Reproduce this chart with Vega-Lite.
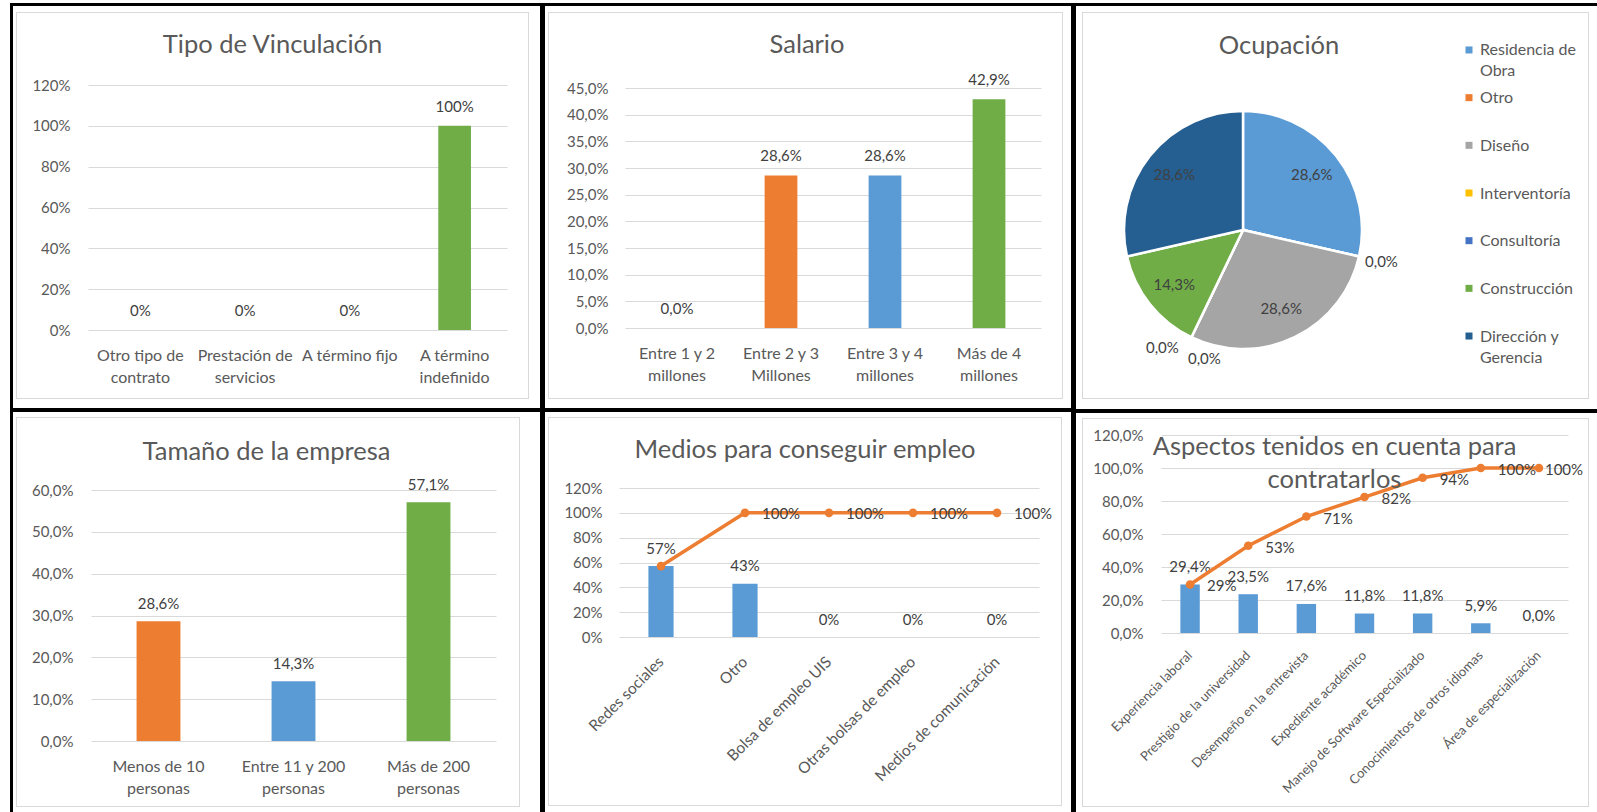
{
  "$schema": "https://vega.github.io/schema/vega-lite/v6.json",
  "padding": {"left": 10, "top": 3, "right": 0, "bottom": 0},
  "background": "#ffffff",
  "spacing": 0,
  "config": {
    "font": "Lato",
    "view": {"stroke": null},
    "locale": {"number": {"decimal": ",", "thousands": ".", "grouping": [3], "currency": ["", ""]}},
    "axis": {"labelFont": "Lato", "labelFontSize": 15, "labelColor": "#595959", "ticks": false, "tickSize": 0, "domain": false, "gridColor": "#D9D9D9", "gridWidth": 1, "labelOverlap": false, "labelLimit": 400},
    "title": {"font": "Lato", "fontSize": 25.5, "fontWeight": "normal", "color": "#595959", "anchor": "middle", "frame": "group"},
    "text": {"font": "Lato", "fontSize": 15, "color": "#404040"}
  },
  "resolve": {"scale": {"color": "independent"}},
  "hconcat": [
    {"width": 3, "height": 809, "view": {"fill": "#000000", "stroke": null}, "data": {"values": [{}]}, "mark": {"type": "point", "size": 0, "opacity": 0, "strokeWidth": 0}, "encoding": {}},
    {
      "spacing": 0,
      "resolve": {"scale": {"color": "independent"}},
      "vconcat": [
        {"width": 527, "height": 3, "view": {"fill": "#000000", "stroke": null}, "data": {"values": [{}]}, "mark": {"type": "point", "size": 0, "opacity": 0, "strokeWidth": 0}, "encoding": {}},
        {"width": 1, "height": 6, "data": {"values": [{}]}, "mark": {"type": "point", "size": 0, "opacity": 0, "strokeWidth": 0}, "encoding": {}},
        {"spacing": 0, "hconcat": [
          {"width": 3, "height": 1, "data": {"values": [{}]}, "mark": {"type": "point", "size": 0, "opacity": 0, "strokeWidth": 0}, "encoding": {}},
          {"width": 1, "height": 387, "view": {"fill": "#D9D9D9", "stroke": null}, "data": {"values": [{}]}, "mark": {"type": "point", "size": 0, "opacity": 0, "strokeWidth": 0}, "encoding": {}},
          {"spacing": 0, "vconcat": [
            {"width": 511, "height": 1, "view": {"fill": "#D9D9D9", "stroke": null}, "data": {"values": [{}]}, "mark": {"type": "point", "size": 0, "opacity": 0, "strokeWidth": 0}, "encoding": {}},
            {"width": 1, "height": 20, "data": {"values": [{}]}, "mark": {"type": "point", "size": 0, "opacity": 0, "strokeWidth": 0}, "encoding": {}},
            {"spacing": 0, "hconcat": [
              {"width": 1, "height": 1, "data": {"values": [{}]}, "mark": {"type": "point", "size": 0, "opacity": 0, "strokeWidth": 0}, "encoding": {}},
              {
                "width": 419, "height": 245,
                "title": {"text": "Tipo de Vinculación", "offset": 19.5, "dx": -25},
                "data": {"values": [
                  {"cat": "Otro tipo de contrato", "v": 0},
                  {"cat": "Prestación de servicios", "v": 0},
                  {"cat": "A término fijo", "v": 0},
                  {"cat": "A término indefinido", "v": 1}
                ]},
                "encoding": {
                  "x": {"field": "cat", "type": "nominal", "sort": null, "title": null,
                        "scale": {"paddingInner": 0.688, "paddingOuter": 0.344},
                        "axis": {"labelAngle": 0, "labelPadding": 17, "labelFontSize": 16, "labelLineHeight": 22, "minExtent": 68, "maxExtent": 68,
                                 "labelExpr": "datum.label == 'A término fijo' ? datum.label : [slice(datum.label, 0, lastindexof(datum.label, ' ')), slice(datum.label, lastindexof(datum.label, ' ') + 1)]"}},
                  "y": {"field": "v", "type": "quantitative", "title": null,
                        "scale": {"domain": [0, 1.2], "nice": false},
                        "axis": {"values": [0, 0.2, 0.4, 0.6, 0.8, 1, 1.2], "format": ".0%", "labelPadding": 18, "minExtent": 70, "maxExtent": 70, "grid": true}}
                },
                "layer": [
                  {"mark": {"type": "bar"}, "encoding": {"color": {"field": "cat", "type": "nominal", "legend": null,
                    "scale": {"domain": ["Otro tipo de contrato", "Prestación de servicios", "A término fijo", "A término indefinido"], "range": ["#5B9BD5", "#ED7D31", "#A5A5A5", "#70AD47"]}}}},
                  {"mark": {"type": "text", "baseline": "middle", "dy": -19}, "encoding": {"text": {"field": "v", "type": "quantitative", "format": ".0%"}}}
                ]
              }
            ]},
            {"width": 511, "height": 1, "view": {"fill": "#D9D9D9", "stroke": null}, "data": {"values": [{}]}, "mark": {"type": "point", "size": 0, "opacity": 0, "strokeWidth": 0}, "encoding": {}}
          ]},
          {"width": 1, "height": 387, "view": {"fill": "#D9D9D9", "stroke": null}, "data": {"values": [{}]}, "mark": {"type": "point", "size": 0, "opacity": 0, "strokeWidth": 0}, "encoding": {}}
        ]},
        {"width": 1, "height": 9, "data": {"values": [{}]}, "mark": {"type": "point", "size": 0, "opacity": 0, "strokeWidth": 0}, "encoding": {}},
        {"width": 527, "height": 4, "view": {"fill": "#000000", "stroke": null}, "data": {"values": [{}]}, "mark": {"type": "point", "size": 0, "opacity": 0, "strokeWidth": 0}, "encoding": {}},
        {"width": 1, "height": 5, "data": {"values": [{}]}, "mark": {"type": "point", "size": 0, "opacity": 0, "strokeWidth": 0}, "encoding": {}},
        {"spacing": 0, "hconcat": [
          {"width": 3, "height": 1, "data": {"values": [{}]}, "mark": {"type": "point", "size": 0, "opacity": 0, "strokeWidth": 0}, "encoding": {}},
          {"width": 1, "height": 390, "view": {"fill": "#D9D9D9", "stroke": null}, "data": {"values": [{}]}, "mark": {"type": "point", "size": 0, "opacity": 0, "strokeWidth": 0}, "encoding": {}},
          {"spacing": 0, "vconcat": [
            {"width": 502, "height": 1, "view": {"fill": "#D9D9D9", "stroke": null}, "data": {"values": [{}]}, "mark": {"type": "point", "size": 0, "opacity": 0, "strokeWidth": 0}, "encoding": {}},
            {"width": 1, "height": 22, "data": {"values": [{}]}, "mark": {"type": "point", "size": 0, "opacity": 0, "strokeWidth": 0}, "encoding": {}},
            {"spacing": 0, "hconcat": [
              {"width": 1, "height": 1, "data": {"values": [{}]}, "mark": {"type": "point", "size": 0, "opacity": 0, "strokeWidth": 0}, "encoding": {}},
              {
                "width": 405, "height": 251,
                "title": {"text": "Tamaño de la empresa", "offset": 12, "dx": -27},
                "data": {"values": [
                  {"cat": "Menos de 10 personas", "v": 0.286},
                  {"cat": "Entre 11 y 200 personas", "v": 0.143},
                  {"cat": "Más de 200 personas", "v": 0.571}
                ]},
                "encoding": {
                  "x": {"field": "cat", "type": "nominal", "sort": null, "title": null,
                        "scale": {"paddingInner": 0.675, "paddingOuter": 0.3375},
                        "axis": {"labelAngle": 0, "labelPadding": 17, "labelFontSize": 16, "labelLineHeight": 22, "minExtent": 65, "maxExtent": 65,
                                 "labelExpr": "[slice(datum.label, 0, lastindexof(datum.label, ' ')), slice(datum.label, lastindexof(datum.label, ' ') + 1)]"}},
                  "y": {"field": "v", "type": "quantitative", "title": null,
                        "scale": {"domain": [0, 0.6], "nice": false},
                        "axis": {"values": [0, 0.1, 0.2, 0.3, 0.4, 0.5, 0.6], "format": ".1%", "labelPadding": 18, "minExtent": 73, "maxExtent": 73, "grid": true}}
                },
                "layer": [
                  {"mark": {"type": "bar"}, "encoding": {"color": {"field": "cat", "type": "nominal", "legend": null,
                    "scale": {"domain": ["Menos de 10 personas", "Entre 11 y 200 personas", "Más de 200 personas"], "range": ["#ED7D31", "#5B9BD5", "#70AD47"]}}}},
                  {"mark": {"type": "text", "baseline": "middle", "dy": -17.5}, "encoding": {"text": {"field": "v", "type": "quantitative", "format": ".1%"}}}
                ]
              }
            ]},
            {"width": 502, "height": 1, "view": {"fill": "#D9D9D9", "stroke": null}, "data": {"values": [{}]}, "mark": {"type": "point", "size": 0, "opacity": 0, "strokeWidth": 0}, "encoding": {}}
          ]},
          {"width": 1, "height": 390, "view": {"fill": "#D9D9D9", "stroke": null}, "data": {"values": [{}]}, "mark": {"type": "point", "size": 0, "opacity": 0, "strokeWidth": 0}, "encoding": {}}
        ]}
      ]
    },
    {"width": 5, "height": 809, "view": {"fill": "#000000", "stroke": null}, "data": {"values": [{}]}, "mark": {"type": "point", "size": 0, "opacity": 0, "strokeWidth": 0}, "encoding": {}},
    {
      "spacing": 0,
      "resolve": {"scale": {"color": "independent"}},
      "vconcat": [
        {"width": 526, "height": 3, "view": {"fill": "#000000", "stroke": null}, "data": {"values": [{}]}, "mark": {"type": "point", "size": 0, "opacity": 0, "strokeWidth": 0}, "encoding": {}},
        {"width": 1, "height": 6, "data": {"values": [{}]}, "mark": {"type": "point", "size": 0, "opacity": 0, "strokeWidth": 0}, "encoding": {}},
        {"spacing": 0, "hconcat": [
          {"width": 3, "height": 1, "data": {"values": [{}]}, "mark": {"type": "point", "size": 0, "opacity": 0, "strokeWidth": 0}, "encoding": {}},
          {"width": 1, "height": 387, "view": {"fill": "#D9D9D9", "stroke": null}, "data": {"values": [{}]}, "mark": {"type": "point", "size": 0, "opacity": 0, "strokeWidth": 0}, "encoding": {}},
          {"spacing": 0, "vconcat": [
            {"width": 513, "height": 1, "view": {"fill": "#D9D9D9", "stroke": null}, "data": {"values": [{}]}, "mark": {"type": "point", "size": 0, "opacity": 0, "strokeWidth": 0}, "encoding": {}},
            {"width": 1, "height": 20, "data": {"values": [{}]}, "mark": {"type": "point", "size": 0, "opacity": 0, "strokeWidth": 0}, "encoding": {}},
            {"spacing": 0, "hconcat": [
              {"width": 1, "height": 1, "data": {"values": [{}]}, "mark": {"type": "point", "size": 0, "opacity": 0, "strokeWidth": 0}, "encoding": {}},
              {
                "width": 416, "height": 240,
                "title": {"text": "Salario", "offset": 14.7, "dx": -26},
                "data": {"values": [
                  {"cat": "Entre 1 y 2 millones", "v": 0},
                  {"cat": "Entre 2 y 3 Millones", "v": 0.286},
                  {"cat": "Entre 3 y 4 millones", "v": 0.286},
                  {"cat": "Más de 4 millones", "v": 0.429}
                ]},
                "encoding": {
                  "x": {"field": "cat", "type": "nominal", "sort": null, "title": null,
                        "scale": {"paddingInner": 0.685, "paddingOuter": 0.3425},
                        "axis": {"labelAngle": 0, "labelPadding": 17, "labelFontSize": 16, "labelLineHeight": 22, "minExtent": 70, "maxExtent": 70,
                                 "labelExpr": "[slice(datum.label, 0, lastindexof(datum.label, ' ')), slice(datum.label, lastindexof(datum.label, ' ') + 1)]"}},
                  "y": {"field": "v", "type": "quantitative", "title": null,
                        "scale": {"domain": [0, 0.45], "nice": false},
                        "axis": {"values": [0, 0.05, 0.1, 0.15, 0.2, 0.25, 0.3, 0.35, 0.4, 0.45], "format": ".1%", "labelPadding": 17, "minExtent": 75, "maxExtent": 75, "grid": true}}
                },
                "layer": [
                  {"mark": {"type": "bar"}, "encoding": {"color": {"field": "cat", "type": "nominal", "legend": null,
                    "scale": {"domain": ["Entre 1 y 2 millones", "Entre 2 y 3 Millones", "Entre 3 y 4 millones", "Más de 4 millones"], "range": ["#A5A5A5", "#ED7D31", "#5B9BD5", "#70AD47"]}}}},
                  {"mark": {"type": "text", "baseline": "middle", "dy": -19}, "encoding": {"text": {"field": "v", "type": "quantitative", "format": ".1%"}}}
                ]
              }
            ]},
            {"width": 513, "height": 1, "view": {"fill": "#D9D9D9", "stroke": null}, "data": {"values": [{}]}, "mark": {"type": "point", "size": 0, "opacity": 0, "strokeWidth": 0}, "encoding": {}}
          ]},
          {"width": 1, "height": 387, "view": {"fill": "#D9D9D9", "stroke": null}, "data": {"values": [{}]}, "mark": {"type": "point", "size": 0, "opacity": 0, "strokeWidth": 0}, "encoding": {}}
        ]},
        {"width": 1, "height": 9, "data": {"values": [{}]}, "mark": {"type": "point", "size": 0, "opacity": 0, "strokeWidth": 0}, "encoding": {}},
        {"width": 526, "height": 4, "view": {"fill": "#000000", "stroke": null}, "data": {"values": [{}]}, "mark": {"type": "point", "size": 0, "opacity": 0, "strokeWidth": 0}, "encoding": {}},
        {"width": 1, "height": 5, "data": {"values": [{}]}, "mark": {"type": "point", "size": 0, "opacity": 0, "strokeWidth": 0}, "encoding": {}},
        {"spacing": 0, "hconcat": [
          {"width": 3, "height": 1, "data": {"values": [{}]}, "mark": {"type": "point", "size": 0, "opacity": 0, "strokeWidth": 0}, "encoding": {}},
          {"width": 1, "height": 389, "view": {"fill": "#D9D9D9", "stroke": null}, "data": {"values": [{}]}, "mark": {"type": "point", "size": 0, "opacity": 0, "strokeWidth": 0}, "encoding": {}},
          {"spacing": 0, "vconcat": [
            {"width": 512, "height": 1, "view": {"fill": "#D9D9D9", "stroke": null}, "data": {"values": [{}]}, "mark": {"type": "point", "size": 0, "opacity": 0, "strokeWidth": 0}, "encoding": {}},
            {"width": 1, "height": 19, "data": {"values": [{}]}, "mark": {"type": "point", "size": 0, "opacity": 0, "strokeWidth": 0}, "encoding": {}},
            {"spacing": 0, "hconcat": [
              {"width": 1, "height": 1, "data": {"values": [{}]}, "mark": {"type": "point", "size": 0, "opacity": 0, "strokeWidth": 0}, "encoding": {}},
              {
                "width": 420, "height": 149,
                "title": {"text": "Medios para conseguir empleo", "offset": 18, "dx": -24},
                "data": {"values": [
                  {"cat": "Redes sociales", "pct": 0.571, "cum": 0.571},
                  {"cat": "Otro", "pct": 0.429, "cum": 1},
                  {"cat": "Bolsa de empleo UIS", "pct": 0, "cum": 1},
                  {"cat": "Otras bolsas de empleo", "pct": 0, "cum": 1},
                  {"cat": "Medios de comunicación", "pct": 0, "cum": 1}
                ]},
                "encoding": {
                  "x": {"field": "cat", "type": "nominal", "sort": null, "title": null,
                        "scale": {"paddingInner": 0.7, "paddingOuter": 0.35},
                        "axis": {"labelAngle": -45, "labelAlign": "right", "labelBaseline": "middle", "labelPadding": 22, "labelFontSize": 15.5, "minExtent": 168, "maxExtent": 168}}
                },
                "layer": [
                  {"mark": {"type": "bar", "color": "#5B9BD5"},
                   "encoding": {"y": {"field": "pct", "type": "quantitative", "title": null,
                        "scale": {"domain": [0, 1.2], "nice": false},
                        "axis": {"values": [0, 0.2, 0.4, 0.6, 0.8, 1, 1.2], "format": ".0%", "labelPadding": 17, "minExtent": 69, "maxExtent": 69, "grid": true}}}},
                  {"mark": {"type": "text", "baseline": "middle", "dy": -17.5},
                   "encoding": {"y": {"field": "pct", "type": "quantitative", "title": null, "scale": {"domain": [0, 1.2], "nice": false},
                        "axis": {"values": [0, 0.2, 0.4, 0.6, 0.8, 1, 1.2], "format": ".0%", "labelPadding": 17, "minExtent": 69, "maxExtent": 69, "grid": true}},
                                "text": {"field": "pct", "type": "quantitative", "format": ".0%"}}},
                  {"mark": {"type": "line", "color": "#ED7D31", "strokeWidth": 3.5},
                   "encoding": {"y": {"field": "cum", "type": "quantitative", "title": null, "scale": {"domain": [0, 1.2], "nice": false},
                        "axis": {"values": [0, 0.2, 0.4, 0.6, 0.8, 1, 1.2], "format": ".0%", "labelPadding": 17, "minExtent": 69, "maxExtent": 69, "grid": true}}}},
                  {"mark": {"type": "point", "filled": true, "color": "#ED7D31", "size": 75, "opacity": 1},
                   "encoding": {"y": {"field": "cum", "type": "quantitative", "title": null, "scale": {"domain": [0, 1.2], "nice": false},
                        "axis": {"values": [0, 0.2, 0.4, 0.6, 0.8, 1, 1.2], "format": ".0%", "labelPadding": 17, "minExtent": 69, "maxExtent": 69, "grid": true}}}},
                  {"mark": {"type": "text", "align": "left", "baseline": "middle", "dx": 17, "dy": 1},
                   "encoding": {"y": {"field": "cum", "type": "quantitative", "title": null, "scale": {"domain": [0, 1.2], "nice": false},
                        "axis": {"values": [0, 0.2, 0.4, 0.6, 0.8, 1, 1.2], "format": ".0%", "labelPadding": 17, "minExtent": 69, "maxExtent": 69, "grid": true}},
                                "text": {"condition": {"test": "datum.cum < 1", "value": ""}, "field": "cum", "type": "quantitative", "format": ".0%"}}}
                ]
              }
            ]},
            {"width": 512, "height": 1, "view": {"fill": "#D9D9D9", "stroke": null}, "data": {"values": [{}]}, "mark": {"type": "point", "size": 0, "opacity": 0, "strokeWidth": 0}, "encoding": {}}
          ]},
          {"width": 1, "height": 389, "view": {"fill": "#D9D9D9", "stroke": null}, "data": {"values": [{}]}, "mark": {"type": "point", "size": 0, "opacity": 0, "strokeWidth": 0}, "encoding": {}}
        ]}
      ]
    },
    {"width": 5, "height": 809, "view": {"fill": "#000000", "stroke": null}, "data": {"values": [{}]}, "mark": {"type": "point", "size": 0, "opacity": 0, "strokeWidth": 0}, "encoding": {}},
    {
      "spacing": 0,
      "resolve": {"scale": {"color": "independent"}},
      "vconcat": [
        {"width": 521, "height": 3, "view": {"fill": "#000000", "stroke": null}, "data": {"values": [{}]}, "mark": {"type": "point", "size": 0, "opacity": 0, "strokeWidth": 0}, "encoding": {}},
        {"width": 1, "height": 6, "data": {"values": [{}]}, "mark": {"type": "point", "size": 0, "opacity": 0, "strokeWidth": 0}, "encoding": {}},
        {"spacing": 0, "resolve": {"scale": {"color": "independent"}}, "hconcat": [
          {"width": 6, "height": 1, "data": {"values": [{}]}, "mark": {"type": "point", "size": 0, "opacity": 0, "strokeWidth": 0}, "encoding": {}},
          {"width": 1, "height": 387, "view": {"fill": "#D9D9D9", "stroke": null}, "data": {"values": [{}]}, "mark": {"type": "point", "size": 0, "opacity": 0, "strokeWidth": 0}, "encoding": {}},
          {"spacing": 0, "resolve": {"scale": {"color": "independent"}}, "vconcat": [
            {"width": 505, "height": 1, "view": {"fill": "#D9D9D9", "stroke": null}, "data": {"values": [{}]}, "mark": {"type": "point", "size": 0, "opacity": 0, "strokeWidth": 0}, "encoding": {}},
            {"width": 1, "height": 19, "data": {"values": [{}]}, "mark": {"type": "point", "size": 0, "opacity": 0, "strokeWidth": 0}, "encoding": {}},
            {
              "spacing": 60,
              "resolve": {"scale": {"color": "independent"}},
              "hconcat": [
                {"spacing": 0, "vconcat": [
                  {"width": 1, "height": 1, "data": {"values": [{}]}, "mark": {"type": "point", "size": 0, "opacity": 0, "strokeWidth": 0}, "encoding": {}},
                  {
                    "width": 320, "height": 336,
                    "title": {"text": "Ocupación", "offset": 3, "dx": 36},
                    "data": {"values": [
                      {"cat": "Residencia de Obra", "v": 0.286, "ord": 1},
                      {"cat": "Otro", "v": 0, "ord": 2},
                      {"cat": "Diseño", "v": 0.286, "ord": 3},
                      {"cat": "Interventoría", "v": 0, "ord": 4},
                      {"cat": "Consultoría", "v": 0, "ord": 5},
                      {"cat": "Construcción", "v": 0.143, "ord": 6},
                      {"cat": "Dirección y Gerencia", "v": 0.286, "ord": 7}
                    ]},
                    "encoding": {
                      "theta": {"field": "v", "type": "quantitative", "stack": true},
                      "order": {"field": "ord", "type": "quantitative"}
                    },
                    "layer": [
                      {"mark": {"type": "arc", "outerRadius": 119, "stroke": "#FFFFFF", "strokeWidth": 2.5},
                       "encoding": {"color": {"field": "cat", "type": "nominal", "legend": null,
                         "scale": {"domain": ["Residencia de Obra", "Otro", "Diseño", "Interventoría", "Consultoría", "Construcción", "Dirección y Gerencia"],
                                   "range": ["#5B9BD5", "#ED7D31", "#A5A5A5", "#FFC000", "#4472C4", "#70AD47", "#255E91"]}}}},
                      {"mark": {"type": "text", "radius": 88},
                       "encoding": {"text": {"condition": {"test": "datum.v == 0", "value": ""}, "field": "v", "type": "quantitative", "format": ".1%"}}},
                      {"mark": {"type": "text", "radius": 142},
                       "encoding": {"text": {"condition": {"test": "datum.cat != 'Otro'", "value": ""}, "field": "v", "type": "quantitative", "format": ".1%"}}},
                      {"mark": {"type": "text", "radius": 142, "dx": 23, "dy": 1},
                       "encoding": {"text": {"condition": {"test": "datum.cat != 'Interventoría'", "value": ""}, "field": "v", "type": "quantitative", "format": ".1%"}}},
                      {"mark": {"type": "text", "radius": 142, "dx": -19, "dy": -10},
                       "encoding": {"text": {"condition": {"test": "datum.cat != 'Consultoría'", "value": ""}, "field": "v", "type": "quantitative", "format": ".1%"}}}
                    ]
                  }
                ]},
                {
                  "width": 8, "height": 322,
                  "data": {"values": [
                    {"cat": "Residencia de Obra"},
                    {"cat": "Otro"},
                    {"cat": "Diseño"},
                    {"cat": "Interventoría"},
                    {"cat": "Consultoría"},
                    {"cat": "Construcción"},
                    {"cat": "Dirección y Gerencia"}
                  ]},
                  "encoding": {
                    "y": {"field": "cat", "type": "nominal", "sort": null, "title": null, "scale": {"type": "point", "padding": 0.377}, "axis": null}
                  },
                  "layer": [
                    {"mark": {"type": "square", "size": 49, "opacity": 1},
                     "encoding": {"color": {"field": "cat", "type": "nominal", "legend": null,
                       "scale": {"domain": ["Residencia de Obra", "Otro", "Diseño", "Interventoría", "Consultoría", "Construcción", "Dirección y Gerencia"],
                                 "range": ["#5B9BD5", "#ED7D31", "#A5A5A5", "#FFC000", "#4472C4", "#70AD47", "#255E91"]}}}},
                    {"mark": {"type": "text", "align": "left", "baseline": "top", "dx": 11, "dy": -7.5, "lineHeight": 21, "fontSize": 16, "color": "#595959"},
                     "encoding": {"text": {"condition": [
                        {"test": "datum.cat == 'Residencia de Obra'", "value": ["Residencia de", "Obra"]},
                        {"test": "datum.cat == 'Dirección y Gerencia'", "value": ["Dirección y", "Gerencia"]}
                      ], "field": "cat", "type": "nominal"}}}
                  ]
                }
              ]
            },
            {"width": 505, "height": 1, "view": {"fill": "#D9D9D9", "stroke": null}, "data": {"values": [{}]}, "mark": {"type": "point", "size": 0, "opacity": 0, "strokeWidth": 0}, "encoding": {}}
          ]},
          {"width": 1, "height": 387, "view": {"fill": "#D9D9D9", "stroke": null}, "data": {"values": [{}]}, "mark": {"type": "point", "size": 0, "opacity": 0, "strokeWidth": 0}, "encoding": {}}
        ]},
        {"width": 1, "height": 9.5, "data": {"values": [{}]}, "mark": {"type": "point", "size": 0, "opacity": 0, "strokeWidth": 0}, "encoding": {}},
        {"width": 521, "height": 4, "view": {"fill": "#000000", "stroke": null}, "data": {"values": [{}]}, "mark": {"type": "point", "size": 0, "opacity": 0, "strokeWidth": 0}, "encoding": {}},
        {"width": 1, "height": 5, "data": {"values": [{}]}, "mark": {"type": "point", "size": 0, "opacity": 0, "strokeWidth": 0}, "encoding": {}},
        {"spacing": 0, "hconcat": [
          {"width": 6, "height": 1, "data": {"values": [{}]}, "mark": {"type": "point", "size": 0, "opacity": 0, "strokeWidth": 0}, "encoding": {}},
          {"width": 1, "height": 389, "view": {"fill": "#D9D9D9", "stroke": null}, "data": {"values": [{}]}, "mark": {"type": "point", "size": 0, "opacity": 0, "strokeWidth": 0}, "encoding": {}},
          {"spacing": 0, "vconcat": [
            {"width": 505, "height": 1, "view": {"fill": "#D9D9D9", "stroke": null}, "data": {"values": [{}]}, "mark": {"type": "point", "size": 0, "opacity": 0, "strokeWidth": 0}, "encoding": {}},
            {"width": 1, "height": 9, "data": {"values": [{}]}, "mark": {"type": "point", "size": 0, "opacity": 0, "strokeWidth": 0}, "encoding": {}},
            {"spacing": 0, "hconcat": [
              {"width": 1, "height": 1, "data": {"values": [{}]}, "mark": {"type": "point", "size": 0, "opacity": 0, "strokeWidth": 0}, "encoding": {}},
              {
                "width": 407, "height": 198,
                "title": {"text": ["Aspectos tenidos en cuenta para", "contratarlos"], "offset": -65, "dx": -30, "lineHeight": 33},
                "data": {"values": [
                  {"cat": "Experiencia laboral", "pct": 0.294, "cum": 0.294},
                  {"cat": "Prestigio de la universidad", "pct": 0.235, "cum": 0.529},
                  {"cat": "Desempeño en la entrevista", "pct": 0.176, "cum": 0.706},
                  {"cat": "Expediente académico", "pct": 0.118, "cum": 0.824},
                  {"cat": "Manejo de Software Especializado", "pct": 0.118, "cum": 0.941},
                  {"cat": "Conocimientos de otros idiomas", "pct": 0.059, "cum": 1},
                  {"cat": "Área de especialización", "pct": 0, "cum": 1}
                ]},
                "encoding": {
                  "x": {"field": "cat", "type": "nominal", "title": null,
                        "scale": {"domain": ["Experiencia laboral", "Prestigio de la universidad", "Desempeño en la entrevista", "Expediente académico", "Manejo de Software Especializado", "Conocimientos de otros idiomas", "Área de especialización"], "paddingInner": 0.666, "paddingOuter": 0.333},
                        "axis": {"labelAngle": -45, "labelAlign": "right", "labelBaseline": "middle", "labelPadding": 20, "labelFontSize": 13, "minExtent": 173, "maxExtent": 173}}
                },
                "layer": [
                  {"mark": {"type": "bar", "color": "#5B9BD5"},
                   "encoding": {"y": {"field": "pct", "type": "quantitative", "title": null,
                        "scale": {"domain": [0, 1.2], "nice": false},
                        "axis": {"values": [0, 0.2, 0.4, 0.6, 0.8, 1, 1.2], "format": ".1%", "labelPadding": 18, "minExtent": 77, "maxExtent": 77, "grid": true}}}},
                  {"mark": {"type": "text", "baseline": "middle", "dy": -17.5},
                   "encoding": {"y": {"field": "pct", "type": "quantitative", "title": null, "scale": {"domain": [0, 1.2], "nice": false},
                        "axis": {"values": [0, 0.2, 0.4, 0.6, 0.8, 1, 1.2], "format": ".1%", "labelPadding": 18, "minExtent": 77, "maxExtent": 77, "grid": true}},
                                "text": {"field": "pct", "type": "quantitative", "format": ".1%"}}},
                  {"mark": {"type": "line", "color": "#ED7D31", "strokeWidth": 3.5},
                   "encoding": {"y": {"field": "cum", "type": "quantitative", "title": null, "scale": {"domain": [0, 1.2], "nice": false},
                        "axis": {"values": [0, 0.2, 0.4, 0.6, 0.8, 1, 1.2], "format": ".1%", "labelPadding": 18, "minExtent": 77, "maxExtent": 77, "grid": true}}}},
                  {"mark": {"type": "point", "filled": true, "color": "#ED7D31", "size": 75, "opacity": 1},
                   "encoding": {"y": {"field": "cum", "type": "quantitative", "title": null, "scale": {"domain": [0, 1.2], "nice": false},
                        "axis": {"values": [0, 0.2, 0.4, 0.6, 0.8, 1, 1.2], "format": ".1%", "labelPadding": 18, "minExtent": 77, "maxExtent": 77, "grid": true}}}},
                  {"transform": [{"filter": "datum.cat != 'Área de especialización'"}],
                   "mark": {"type": "text", "align": "left", "baseline": "middle", "dx": 17, "dy": 2},
                   "encoding": {"y": {"field": "cum", "type": "quantitative", "title": null, "scale": {"domain": [0, 1.2], "nice": false},
                        "axis": {"values": [0, 0.2, 0.4, 0.6, 0.8, 1, 1.2], "format": ".1%", "labelPadding": 18, "minExtent": 77, "maxExtent": 77, "grid": true}},
                                "text": {"field": "cum", "type": "quantitative", "format": ".0%"}}},
                  {"transform": [{"filter": "datum.cat == 'Área de especialización'"}],
                   "mark": {"type": "text", "align": "left", "baseline": "middle", "dx": 6, "dy": 2},
                   "encoding": {"y": {"field": "cum", "type": "quantitative", "title": null, "scale": {"domain": [0, 1.2], "nice": false},
                        "axis": {"values": [0, 0.2, 0.4, 0.6, 0.8, 1, 1.2], "format": ".1%", "labelPadding": 18, "minExtent": 77, "maxExtent": 77, "grid": true}},
                                "text": {"field": "cum", "type": "quantitative", "format": ".0%"}}}
                ]
              }
            ]},
            {"width": 505, "height": 1, "view": {"fill": "#D9D9D9", "stroke": null}, "data": {"values": [{}]}, "mark": {"type": "point", "size": 0, "opacity": 0, "strokeWidth": 0}, "encoding": {}}
          ]},
          {"width": 1, "height": 389, "view": {"fill": "#D9D9D9", "stroke": null}, "data": {"values": [{}]}, "mark": {"type": "point", "size": 0, "opacity": 0, "strokeWidth": 0}, "encoding": {}}
        ]}
      ]
    }
  ]
}
